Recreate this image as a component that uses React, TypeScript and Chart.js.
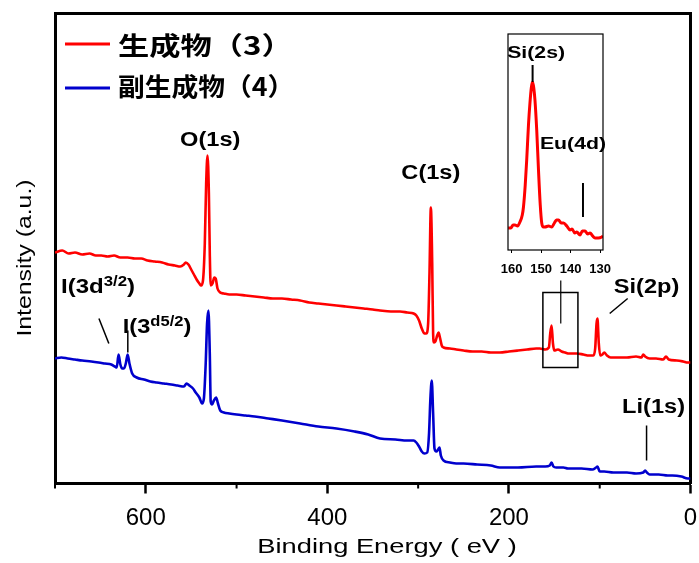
import React, { useEffect, useRef } from "react";
import { Chart, registerables } from "chart.js";
Chart.register(...registerables);

// ---------- data ----------
const RED_ENERGY = [700, 692, 685, 678, 670, 662, 655, 649, 642, 635, 628, 620, 612, 605, 598, 590, 582, 575, 568, 562, 558, 556, 553, 550, 547, 544, 541, 539, 537, 535, 533.5, 532, 530.5, 529.5, 528.5, 526.5, 524.5, 523, 521, 518, 514, 508, 500, 490, 480, 470, 460, 450, 440, 430, 420, 410, 400, 390, 380, 370, 360, 350, 342, 330, 320, 312, 305, 302, 299, 296, 293, 291, 289, 287.5, 286, 284.5, 283.5, 282.5, 281, 279, 277.5, 276, 274, 272, 265, 258, 250, 240, 230, 220, 210, 200, 190, 180, 170, 166, 160, 156, 154.5, 153, 151.5, 150, 146, 142, 138, 134, 130, 125, 118, 112, 107, 105, 103.5, 102.5, 101, 99.5, 97, 95, 92, 88, 80, 70, 60, 54, 52, 50, 45, 38, 30, 27, 24, 15, 8, 3, 0];
const RED_INTENSITY = [231, 233, 230, 231, 229, 230, 228, 228, 227, 228, 226, 226, 225, 225, 223, 222, 221, 219, 218, 217, 219, 221, 219, 214, 209, 204, 200, 198, 203, 240, 300, 328, 290, 230, 198, 200, 206, 205, 195, 191, 190, 189, 189, 188, 187, 186, 185, 185, 184, 183, 181, 180, 179, 178, 177, 176, 175, 174, 173, 172, 172, 171, 170, 168, 163, 155, 150, 150, 160, 210, 276, 220, 150, 141, 142, 148, 151, 146, 138, 136, 135, 134, 133, 132, 132, 131, 131, 132, 133, 134, 135, 135, 134, 136, 150, 158, 140, 133, 134, 132, 131, 130, 130, 130, 129, 128, 128, 135, 160, 165, 140, 128, 129, 131, 128, 126, 126, 126, 127, 126, 129, 127, 125, 125, 124, 127, 124, 123, 122, 121, 121];

const BLUE_ENERGY = [700, 693, 686, 678, 670, 660, 652, 645, 638, 634, 632, 630, 628, 626, 624, 622, 620, 618, 615, 610, 602, 595, 588, 580, 572, 565, 558, 555, 552, 548, 545, 541, 538, 536, 534, 532.5, 531, 529.5, 528.5, 527, 525, 522.5, 520.5, 518, 514, 508, 500, 490, 480, 465, 450, 430, 410, 390, 370, 355, 342, 325, 312, 305, 302, 299, 296, 293, 290, 288, 286.5, 285, 283.5, 282, 280, 278, 276.5, 275, 272, 265, 258, 250, 235, 220, 210, 190, 170, 160, 155, 153, 151, 148, 140, 135, 120, 108, 104, 102.5, 100, 95, 85, 70, 60, 52, 50, 48, 45, 35, 25, 20, 10, 3, 0];
const BLUE_INTENSITY = [125, 126, 125, 124, 123, 122, 121, 120, 119, 117, 116, 129, 119, 115, 115, 120, 129, 120, 110, 106, 104, 102, 101, 100, 99, 98, 97, 100, 98, 95, 91, 86, 80, 85, 120, 160, 173, 130, 82, 79, 83, 86, 80, 73, 71, 70, 69, 68, 67, 65, 63, 60, 57, 55, 52, 49, 45, 44, 43, 43, 41, 37, 32, 30, 31, 50, 85, 103, 70, 35, 32, 34, 36, 28, 23, 21, 20, 20, 19, 18, 16, 16, 17, 17, 18, 21, 17, 16, 16, 15, 15, 14, 16, 17, 12, 12, 11, 11, 10, 11, 13, 11, 9, 9, 8, 8, 7, 5, 5];

const INSET_ENERGY = [161.2, 160.3, 159.5, 158.9, 158, 157.2, 156.4, 156, 155.4, 154.9, 154.3, 153.8, 153.3, 152.9, 152.5, 152.1, 151.5, 150.9, 150.3, 149.8, 149.2, 148.7, 147.5, 146.4, 145.5, 144.8, 144.1, 143.2, 142.4, 141.3, 140.2, 139.5, 138.6, 137.9, 136.8, 136, 135.1, 134.2, 133.4, 132.5, 131.7, 130.6, 129.4, 129];
const INSET_INTENSITY = [22, 22, 25, 25, 24, 28, 35, 43, 65, 90, 125, 147, 163, 168, 162, 150, 120, 80, 45, 27, 23, 23, 24, 23, 27, 30, 30, 27, 27, 24, 20, 21, 17, 18, 15, 19, 19, 16, 17, 14, 12, 12, 13, 14];

const X_TICKS = [600, 400, 200, 0];
const X_MINOR_TICKS = [700, 500, 300, 100];
const INSET_TICKS = [160, 150, 140, 130];

const SERIES_LABELS = ["生成物（3）", "副生成物（4）"];
const X_TITLE = "Binding Energy ( eV )";
const Y_TITLE = "Intensity (a.u.)";

const RED = "rgb(255,0,0)";
const BLUE = "rgb(0,0,205)";
const SANS = '"Liberation Sans", Arial, sans-serif';
const CJK = '"Noto Sans CJK SC", sans-serif';

const toPoints = (xs: number[], ys: number[]) => xs.map((x, i) => ({ x, y: ys[i] }));

function stretchedText(
  ctx: CanvasRenderingContext2D,
  text: string,
  x: number,
  y: number,
  font: string,
  k: number,
  align: CanvasTextAlign = "center"
) {
  ctx.save();
  ctx.font = font;
  ctx.translate(x, y);
  ctx.scale(k, 1);
  ctx.textAlign = align;
  ctx.textBaseline = "middle";
  ctx.fillStyle = "#000";
  ctx.fillText(text, 0, 0);
  ctx.restore();
}

function richText(
  ctx: CanvasRenderingContext2D,
  parts: { t: string; sup?: boolean }[],
  x: number,
  y: number,
  size: number,
  supSize: number,
  k: number
) {
  let cx = x;
  for (const p of parts) {
    const font = `bold ${p.sup ? supSize : size}px ${SANS}`;
    ctx.save();
    ctx.font = font;
    const w = ctx.measureText(p.t).width * k;
    ctx.translate(cx, p.sup ? y - 5 : y);
    ctx.scale(k, 1);
    ctx.textAlign = "left";
    ctx.textBaseline = "middle";
    ctx.fillStyle = "#000";
    ctx.fillText(p.t, 0, 0);
    ctx.restore();
    cx += w;
  }
}

function line(ctx: CanvasRenderingContext2D, x1: number, y1: number, x2: number, y2: number, w: number) {
  ctx.save();
  ctx.strokeStyle = "#000";
  ctx.lineWidth = w;
  ctx.beginPath();
  ctx.moveTo(x1, y1);
  ctx.lineTo(x2, y2);
  ctx.stroke();
  ctx.restore();
}

const mainDecor = {
  id: "mainDecor",
  afterDraw(chart: any) {
    const ctx: CanvasRenderingContext2D = chart.ctx;
    const xs = chart.scales.x;
    const ys = chart.scales.y;
    const px = (v: number) => xs.getPixelForValue(v);
    const py = (v: number) => ys.getPixelForValue(v);
    const bottom = chart.chartArea.bottom;

    // minor ticks
    for (const v of X_MINOR_TICKS) line(ctx, px(v), bottom, px(v), bottom + 5, 2);

    // axis titles
    stretchedText(ctx, X_TITLE, 387, 547, `21px ${SANS}`, 1.3);
    ctx.save();
    ctx.translate(25, 258);
    ctx.rotate(-Math.PI / 2);
    stretchedText(ctx, Y_TITLE, 0, 0, `20px ${SANS}`, 1.24);
    ctx.restore();

    // legend
    ctx.save();
    ctx.lineWidth = 3;
    ctx.strokeStyle = RED;
    ctx.beginPath();
    ctx.moveTo(65, 44);
    ctx.lineTo(110, 44);
    ctx.stroke();
    ctx.strokeStyle = BLUE;
    ctx.beginPath();
    ctx.moveTo(65, 88);
    ctx.lineTo(110, 88);
    ctx.stroke();
    ctx.restore();
    stretchedText(ctx, SERIES_LABELS[0], 118, 45, `bold 25px ${CJK}`, 1.25, "left");
    stretchedText(ctx, SERIES_LABELS[1], 118, 86, `bold 25px ${CJK}`, 1.07, "left");

    // peak labels
    const bf = `bold 20px ${SANS}`;
    stretchedText(ctx, "O(1s)", px(529), py(343), bf, 1.18);
    stretchedText(ctx, "C(1s)", px(286), py(310), bf, 1.18);
    stretchedText(ctx, "Si(2p)", px(48.4), py(196), bf, 1.18);
    stretchedText(ctx, "Li(1s)", px(40.7), py(76), bf, 1.18);
    richText(ctx, [{ t: "I(3d" }, { t: "3/2", sup: true }, { t: ")" }], px(693.4), py(196), 20, 14, 1.2);
    richText(ctx, [{ t: "I(3" }, { t: "d5/2", sup: true }, { t: ")" }], px(625.3), py(156), 20, 14, 1.18);

    // pointer lines
    line(ctx, px(651.6), py(165), px(640.7), py(140), 1.5);
    line(ctx, px(619.8), py(153), px(619.8), py(131), 1.5);
    line(ctx, px(89), py(170), px(69.2), py(185), 1.5);
    line(ctx, px(48.4), py(58), px(48.4), py(23), 1.5);
    line(ctx, px(142.9), py(203), px(142.9), py(160), 1.2);

    // zoom box
    ctx.save();
    ctx.strokeStyle = "#000";
    ctx.lineWidth = 1.5;
    ctx.strokeRect(px(162.6), py(191), px(124) - px(162.6), py(116) - py(191));
    ctx.restore();
  },
};

const insetDecor = {
  id: "insetDecor",
  afterDraw(chart: any) {
    const ctx: CanvasRenderingContext2D = chart.ctx;
    const ca = chart.chartArea;
    const xs = chart.scales.x;
    const ys = chart.scales.y;
    const px = (v: number) => xs.getPixelForValue(v);
    const py = (v: number) => ys.getPixelForValue(v);
    ctx.save();
    ctx.strokeStyle = "#000";
    ctx.lineWidth = 1.2;
    ctx.strokeRect(ca.left, ca.top, ca.right - ca.left, ca.bottom - ca.top);
    ctx.restore();
    const f = `bold 17px ${SANS}`;
    stretchedText(ctx, "Si(2s)", px(151.7), py(197), f, 1.25);
    line(ctx, px(152.9), py(185), px(152.9), py(168), 2);
    stretchedText(ctx, "Eu(4d)", px(139.2), py(106), f, 1.25);
    line(ctx, px(135.8), py(67), px(135.8), py(33), 2);
  },
};

export default function App() {
  const mainRef = useRef<HTMLCanvasElement | null>(null);
  const insetRef = useRef<HTMLCanvasElement | null>(null);

  useEffect(() => {
    const zeroW = (s: any) => {
      s.width = 0;
    };
    const zeroH = (s: any) => {
      s.height = 0;
    };
    const border = { display: true, color: "#000", width: 3 };

    const main = new Chart(mainRef.current as HTMLCanvasElement, {
      type: "line",
      data: {
        datasets: [
          {
            label: SERIES_LABELS[0],
            data: toPoints(RED_ENERGY, RED_INTENSITY),
            borderColor: RED,
            borderWidth: 2.6,
            pointRadius: 0,
            cubicInterpolationMode: "monotone",
            xAxisID: "x",
            yAxisID: "y",
          },
          {
            label: SERIES_LABELS[1],
            data: toPoints(BLUE_ENERGY, BLUE_INTENSITY),
            borderColor: BLUE,
            borderWidth: 2.6,
            pointRadius: 0,
            cubicInterpolationMode: "monotone",
            xAxisID: "x",
            yAxisID: "y",
          },
        ],
      },
      options: {
        responsive: false,
        animation: false,
        devicePixelRatio: 1,
        layout: { padding: { left: 55, right: 8.5, top: 13.5, bottom: 0 } },
        plugins: { legend: { display: false }, tooltip: { enabled: false } },
        scales: {
          x: {
            type: "linear",
            position: "bottom",
            min: 0,
            max: 700,
            reverse: true,
            afterFit: (s: any) => {
              s.height = 79.5;
              s.paddingLeft = 0;
              s.paddingRight = 0;
            },
            afterBuildTicks: (s: any) => {
              s.ticks = X_TICKS.map((v) => ({ value: v }));
            },
            grid: { display: true, drawOnChartArea: false, drawTicks: true, tickLength: 10, tickWidth: 2.5, tickColor: "#000" },
            border,
            ticks: {
              color: "#000",
              font: { family: SANS, size: 24 },
              padding: 10,
              maxRotation: 0,
              autoSkip: false,
              callback: (v: any) => String(v),
            },
          },
          xTop: {
            type: "linear",
            position: "top",
            min: 0,
            max: 700,
            reverse: true,
            afterFit: zeroH,
            grid: { display: false },
            ticks: { display: false },
            border,
          },
          y: {
            type: "linear",
            position: "left",
            min: 0,
            max: 470,
            afterFit: zeroW,
            grid: { display: false },
            ticks: { display: false },
            border,
          },
          yRight: {
            type: "linear",
            position: "right",
            min: 0,
            max: 470,
            afterFit: zeroW,
            grid: { display: false },
            ticks: { display: false },
            border,
          },
        },
      } as any,
      plugins: [mainDecor],
    });

    const inset = new Chart(insetRef.current as HTMLCanvasElement, {
      type: "line",
      data: {
        datasets: [
          {
            label: SERIES_LABELS[0],
            data: toPoints(INSET_ENERGY, INSET_INTENSITY),
            borderColor: RED,
            borderWidth: 3,
            pointRadius: 0,
            cubicInterpolationMode: "monotone",
          },
        ],
      },
      options: {
        responsive: false,
        animation: false,
        devicePixelRatio: 1,
        layout: { padding: { left: 18, right: 27, top: 14, bottom: 0 } },
        plugins: { legend: { display: false }, tooltip: { enabled: false } },
        scales: {
          x: {
            type: "linear",
            position: "bottom",
            min: 129,
            max: 161.25,
            reverse: true,
            afterFit: (s: any) => {
              s.height = 40;
              s.paddingLeft = 0;
              s.paddingRight = 0;
            },
            afterBuildTicks: (s: any) => {
              s.ticks = INSET_TICKS.map((v) => ({ value: v }));
            },
            grid: { display: true, drawOnChartArea: false, drawTicks: true, tickLength: 3, tickWidth: 1, tickColor: "#000" },
            border: { display: false },
            ticks: {
              color: "#000",
              font: { family: SANS, size: 13, weight: "bold" },
              padding: 9,
              maxRotation: 0,
              autoSkip: false,
              callback: (v: any) => String(v),
            },
          },
          y: {
            type: "linear",
            min: 0,
            max: 216,
            afterFit: zeroW,
            display: true,
            grid: { display: false },
            ticks: { display: false },
            border: { display: false },
          },
        },
      } as any,
      plugins: [insetDecor],
    });

    return () => {
      main.destroy();
      inset.destroy();
    };
  }, []);

  return (
    <div style={{ position: "absolute", left: 0, top: 0, width: 699, height: 563, background: "#fff" }}>
      <canvas ref={mainRef} width={699} height={563} style={{ position: "absolute", left: 0, top: 0, width: 699, height: 563 }} />
      <canvas ref={insetRef} width={140} height={270} style={{ position: "absolute", left: 490, top: 20, width: 140, height: 270 }} />
    </div>
  );
}
